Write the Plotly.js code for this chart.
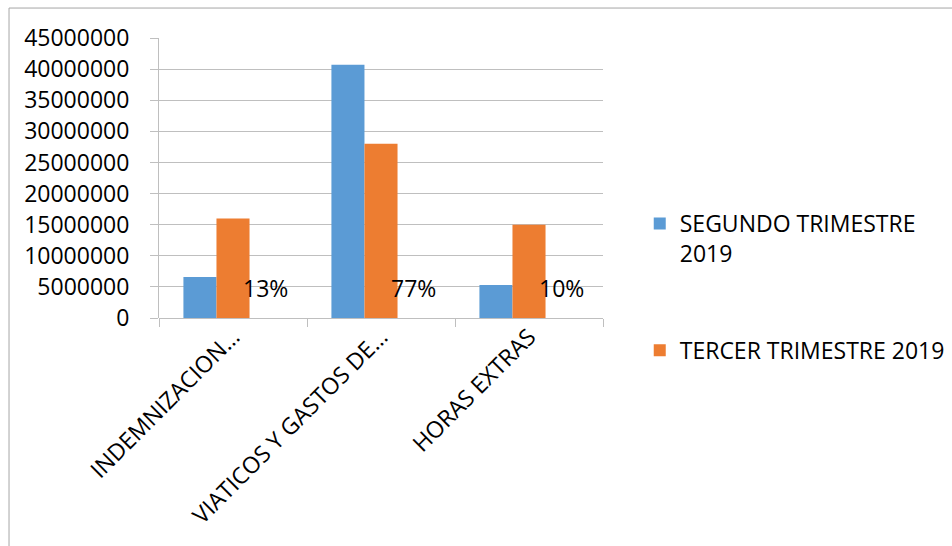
<!DOCTYPE html>
<html>
<head>
<meta charset="utf-8">
<script src="https://cdn.plot.ly/plotly-3.0.1.min.js"></script>
<style>html,body{margin:0;padding:0;background:#fff;}#chart{width:952px;height:546px;}</style>
</head>
<body>
<div id="chart"></div>
<script>
const categories = ["INDEMNIZACION…", "VIATICOS Y GASTOS DE…", "HORAS EXTRAS"];
const segundoTrimestre = [6600000, 40700000, 5300000];
const tercerTrimestre = [16000000, 28000000, 15000000];
const shareValues = [0, 0, 0];
const shareLabels = ["13%", "77%", "10%"];
const yTicks = [0, 5000000, 10000000, 15000000, 20000000, 25000000, 30000000, 35000000, 40000000, 45000000];

const font = "Open Sans, Noto Sans, sans-serif";
const fs = 23;

const traces = [
  {type: "bar", name: "SEGUNDO TRIMESTRE<br>2019", x: categories, y: segundoTrimestre,
   legendgroup: "a", marker: {color: "#5B9BD5"}, hoverinfo: "skip"},
  {type: "bar", name: "TERCER TRIMESTRE 2019", x: categories, y: tercerTrimestre,
   legendgroup: "b", marker: {color: "#ED7D31"}, hoverinfo: "skip"},
  {type: "bar", name: "share", x: categories, y: shareValues, showlegend: false,
   legendgroup: "c", marker: {color: "rgba(0,0,0,0)"}, hoverinfo: "skip"}
];

const annotations = categories.map((c, i) => ({
  x: c, y: 0, xref: "x", yref: "y", text: shareLabels[i], showarrow: false,
  xanchor: "center", yanchor: "bottom", xshift: 32, yshift: 12,
  font: {family: font, size: fs, color: "#000"}
}));

const layout = {
  width: 952, height: 546,
  margin: {l: 159, r: 349, t: 38, b: 228, pad: 0, autoexpand: false},
  paper_bgcolor: "#fff", plot_bgcolor: "#fff",
  barmode: "group", bargap: 0.33, bargroupgap: 0,
  font: {family: font, size: fs, color: "#000"},
  showlegend: true,
  legend: {xref: "container", yref: "container", x: 0.672, xanchor: "left", y: 0.63, yanchor: "top",
           valign: "top", traceorder: "grouped",
           font: {family: font, size: fs, color: "#000"}, tracegroupgap: 64,
           itemwidth: 30, bgcolor: "rgba(0,0,0,0)"},
  xaxis: {type: "category", tickangle: -45, showgrid: false, zeroline: false,
          ticks: "outside", tickson: "boundaries", ticklen: 8, tickcolor: "#bfbfbf",
          showline: false, tickfont: {family: font, size: fs, color: "#000"}},
  yaxis: {range: [0, 45000000], tickvals: yTicks, ticktext: yTicks.map(String),
          showgrid: true, gridcolor: "#bfbfbf", gridwidth: 1, zeroline: true,
          zerolinecolor: "#bfbfbf", zerolinewidth: 1,
          showline: true, linecolor: "#bfbfbf", linewidth: 1,
          ticks: "outside", ticklen: 8, tickcolor: "#bfbfbf", ticklabelstandoff: 16,
          tickfont: {family: font, size: fs, color: "#000"}},
  annotations: annotations,
  shapes: [{type: "rect", xref: "paper", yref: "paper",
            x0: -0.3378, x1: 2, y0: -2, y1: 1.107,
            line: {color: "#a6a6a6", width: 1}, fillcolor: "rgba(0,0,0,0)", layer: "below"}]
};

Plotly.newPlot("chart", traces, layout, {displayModeBar: false, staticPlot: true});
</script>
</body>
</html>
